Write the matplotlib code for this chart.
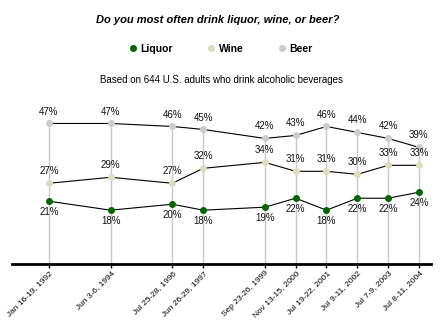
import matplotlib.pyplot as plt
from matplotlib.lines import Line2D

plt.rcParams['font.family'] = ['Liberation Sans', 'DejaVu Sans']

dates = ['Jan 16-19, 1992', 'Jun 3-6, 1994', 'Jul 25-28, 1996', 'Jun 26-29, 1997',
         'Sep 23-26, 1999', 'Nov 13-15, 2000', 'Jul 19-22, 2001', 'Jul 9-11, 2002',
         'Jul 7-9, 2003', 'Jul 8-11, 2004']
years = [1992, 1994, 1996, 1997, 1999, 2000, 2001, 2002, 2003, 2004]
liquor = [21, 18, 20, 18, 19, 22, 18, 22, 22, 24]
wine = [27, 29, 27, 32, 34, 31, 31, 30, 33, 33]
beer = [47, 47, 46, 45, 42, 43, 46, 44, 42, 39]

c_liquor = '#006600'
c_wine = '#dedcbc'
c_beer = '#cccccc'

fig = plt.figure(figsize=(4.4, 3.25), dpi=100)
ax = fig.add_axes([12 / 440, 1 - 264 / 325, 419 / 440, 164 / 325])

x = [y - years[0] for y in years]

# drop lines from top point to the axis
top = [max(a, b, c) for a, b, c in zip(liquor, wine, beer)]
ax.vlines(x, 0, top, color='#c8c8c8', lw=1, zorder=1)

for vals, col in [(beer, c_beer), (wine, c_wine), (liquor, c_liquor)]:
    ax.plot(x, vals, color='black', lw=0.8, zorder=2)
    ax.plot(x, vals, 'o', color=col, ms=4, mec=col, zorder=3)

lab = dict(ha='center', fontsize=7, color='#111111')
for xi, v in zip(x, beer):
    ax.annotate(f'{v}%', (xi, v), xytext=(0, 5), textcoords='offset points', va='bottom', **lab)
for xi, v in zip(x, wine):
    ax.annotate(f'{v}%', (xi, v), xytext=(0, 5), textcoords='offset points', va='bottom', **lab)
for xi, v in zip(x, liquor):
    ax.annotate(f'{v}%', (xi, v), xytext=(0, -4), textcoords='offset points', va='top', **lab)

ax.set_xlim(-1.2, 12.39)
ax.set_ylim(0, 54.85)
for s in ['top', 'right', 'left']:
    ax.spines[s].set_visible(False)
ax.spines['bottom'].set_linewidth(2)
ax.set_yticks([])
ax.set_xticks(x)
ax.set_xticklabels(dates, rotation=45, ha='right', rotation_mode='anchor', fontsize=6)
ax.tick_params(axis='x', length=3, width=1, pad=1)

fig.text(0.495, 1 - 20 / 325, 'Do you most often drink liquor, wine, or beer?',
         ha='center', va='center', fontsize=8, fontweight='bold', fontstyle='italic')
fig.text(0.503, 1 - 80 / 325, 'Based on 644 U.S. adults who drink alcoholic beverages',
         ha='center', va='center', fontsize=7)

handles = [Line2D([], [], ls='', marker='o', ms=4, color=c) for c in (c_liquor, c_wine, c_beer)]
leg = fig.legend(handles, ['Liquor', 'Wine', 'Beer'], loc='center', ncol=3,
                 bbox_to_anchor=(0.5, 1 - 49 / 325), frameon=False,
                 prop={'size': 7.5, 'weight': 'bold'}, handletextpad=0.2,
                 columnspacing=3.2, handlelength=1.0)

fig.savefig('out.png', dpi=100)
